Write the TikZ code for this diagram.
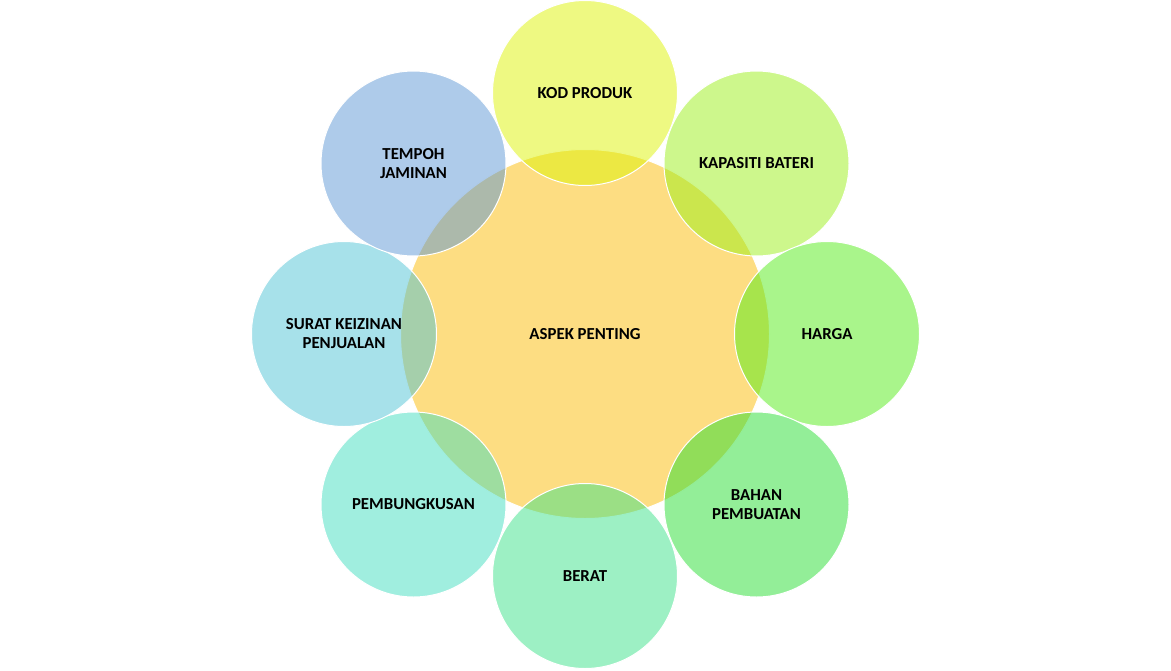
\documentclass[tikz,border=0pt]{standalone}
\usepackage{fontspec}
\setmainfont{Carlito}
\definecolor{cCenter}{RGB}{253,221,130}
\definecolor{cA}{RGB}{221,243,5}
\definecolor{cB}{RGB}{155,239,25}
\definecolor{cC}{RGB}{83,235,23}
\definecolor{cD}{RGB}{39,221,49}
\definecolor{cE}{RGB}{59,225,137}
\definecolor{cF}{RGB}{65,221,191}
\definecolor{cG}{RGB}{79,195,213}
\definecolor{cH}{RGB}{93,151,213}
\tikzset{
  lbl/.style={font=\fontsize{16.8}{19}\selectfont\bfseries, align=center, text=black},
  hub/.style={circle, minimum size=369pt, inner sep=0pt, fill=cCenter, draw=white, line width=1pt, lbl},
  petal/.style={circle, minimum size=185pt, inner sep=0pt, fill opacity=0.5, draw opacity=1, text opacity=1, draw=white, line width=1pt, lbl}
}
\begin{document}
\begin{tikzpicture}[x=1pt,y=-1pt]
\useasboundingbox (0,0) rectangle (1171,670);
\node[hub] (c) at (585,334) {ASPEK PENTING};
\node[petal, fill=cA] (n1) at (585,93) {KOD PRODUK};
\node[petal, fill=cB] (n2) at (756.5,163.5) {KAPASITI BATERI};
\node[petal, fill=cC] (n3) at (827,334) {HARGA};
\node[petal, fill=cD] (n4) at (756.5,504.5) {BAHAN\\PEMBUATAN};
\node[petal, fill=cE] (n5) at (585,576) {BERAT};
\node[petal, fill=cF] (n6) at (413.5,504.5) {PEMBUNGKUSAN};
\node[petal, fill=cG] (n7) at (344,334) {SURAT KEIZINAN\\PENJUALAN};
\node[petal, fill=cH] (n8) at (413.5,163.5) {TEMPOH\\JAMINAN};
\end{tikzpicture}
\end{document}
